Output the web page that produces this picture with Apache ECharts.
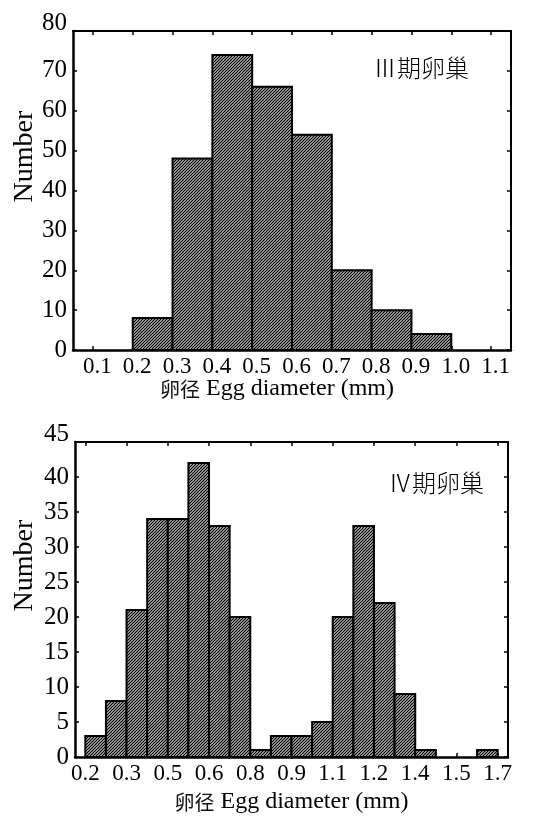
<!DOCTYPE html>
<html><head><meta charset="utf-8">
<script src="https://cdn.jsdelivr.net/npm/echarts@6/dist/echarts.min.js"></script>
<style>html,body{margin:0;padding:0;background:#fff}#c{width:550px;height:816px}</style>
</head><body><div id="c"></div>
<script>
// ---------- data ----------
const topBinEdges = [0.2, 0.3, 0.4, 0.5, 0.6, 0.7, 0.8, 0.9, 1.0];
const topCounts = [8, 48, 74, 66, 54, 20, 10, 4];
const topTickValues = [0.1, 0.2, 0.3, 0.4, 0.5, 0.6, 0.7, 0.8, 0.9, 1.0, 1.1];
const topTickLabels = ['0.1', '0.2', '0.3', '0.4', '0.5', '0.6', '0.7', '0.8', '0.9', '1.0', '1.1'];
const topTitle = 'Ⅲ期卵巢';

const botBinEdges = [0.2, 0.275, 0.35, 0.425, 0.5, 0.575, 0.65, 0.725, 0.8, 0.875, 0.95,
  1.025, 1.1, 1.175, 1.25, 1.325, 1.4, 1.475, 1.55, 1.625, 1.7];
const botCounts = [3, 8, 21, 34, 34, 42, 33, 20, 1, 3, 3, 5, 20, 33, 22, 9, 1, 0, 0, 1];
const botTickValues = [0.2, 0.35, 0.5, 0.65, 0.8, 0.95, 1.1, 1.25, 1.4, 1.55, 1.7];
const botTickLabels = ['0.2', '0.3', '0.5', '0.6', '0.8', '0.9', '1.1', '1.2', '1.4', '1.5', '1.7'];
const botTitle = 'Ⅳ期卵巢';

const xNameCn = '卵径';
const xNameEn = 'Egg diameter (mm)';
const yName = 'Number';

// ---------- hatch pattern ----------
function hatch() {
  const s = 3;
  const cv = document.createElement('canvas');
  cv.width = s; cv.height = s;
  const g = cv.getContext('2d');
  g.fillStyle = '#fff'; g.fillRect(0, 0, s, s);
  g.strokeStyle = '#000'; g.lineWidth = 1.3;
  g.beginPath();
  g.moveTo(-1, s + 1); g.lineTo(s + 1, -1);
  g.moveTo(-1, 1); g.lineTo(1, -1);
  g.moveTo(s - 1, s + 1); g.lineTo(s + 1, s - 1);
  g.stroke();
  return { image: cv, repeat: 'repeat' };
}
const pattern = hatch();

function rows(edges, counts) {
  return counts.map((c, i) => [edges[i], edges[i + 1], c]);
}
function lookup(vals, labs) {
  return v => {
    let bi = 0, bd = Infinity;
    vals.forEach((t, i) => { const d = Math.abs(t - v); if (d < bd) { bd = d; bi = i; } });
    return labs[bi];
  };
}

const serif = "'Liberation Serif','Times New Roman',serif";
const black = '#000';

function xAxes(gi, min, max, ticks, labs, namePad, labPad, gap) {
  return [{
    type: 'value', gridIndex: gi, min: min, max: max, position: 'bottom',
    axisLine: { show: true, onZero: false, lineStyle: { color: black, width: 2.5 } },
    axisTick: { show: true, inside: true, length: 4, customValues: ticks, lineStyle: { color: black, width: 1.5 } },
    axisLabel: { show: true, customValues: ticks, formatter: lookup(ticks, labs), color: black,
      fontFamily: serif, fontSize: 23, margin: 5, padding: labPad },
    splitLine: { show: false },
    name: '{c|' + xNameCn + '} {e|' + xNameEn + '}', nameLocation: 'middle', nameGap: gap,
    nameMoveOverlap: false,
    nameTextStyle: { color: black, fontFamily: serif, fontSize: 24, padding: namePad,
      rich: {
        c: { fontFamily: "'Noto Sans CJK SC'", fontSize: 20, color: '#111' },
        e: { fontFamily: serif, fontSize: 24, color: black }
      } }
  }, {
    type: 'value', gridIndex: gi, min: min, max: max, position: 'top',
    axisLine: { show: true, onZero: false, lineStyle: { color: black, width: 2 } },
    axisTick: { show: true, inside: true, length: 4, customValues: ticks, lineStyle: { color: black, width: 1.5 } },
    axisLabel: { show: false }, splitLine: { show: false }
  }];
}
function yAxes(gi, max, interval, gap) {
  return [{
    type: 'value', gridIndex: gi, min: 0, max: max, interval: interval, position: 'left',
    axisLine: { show: true, onZero: false, lineStyle: { color: black, width: 2.5 } },
    axisTick: { show: true, inside: true, length: 4, lineStyle: { color: black, width: 1.5 } },
    axisLabel: { color: black, fontFamily: serif, fontSize: 25, margin: 6,
      formatter: v => v === max ? '{t|' + v + '}' : String(v),
      rich: { t: { fontFamily: serif, fontSize: 25, color: black, padding: [0, 0, 16, 0] } } },
    splitLine: { show: false },
    name: yName, nameLocation: 'middle', nameGap: gap, nameRotate: 90, nameMoveOverlap: false,
    nameTextStyle: { color: black, fontFamily: serif, fontSize: 28, padding: [0, 0, 0, 68] }
  }, {
    type: 'value', gridIndex: gi, min: 0, max: max, interval: interval, position: 'right',
    axisLine: { show: true, onZero: false, lineStyle: { color: black, width: 2 } },
    axisTick: { show: true, inside: true, length: 4, lineStyle: { color: black, width: 1.5 } },
    axisLabel: { show: false }, splitLine: { show: false }
  }];
}

function renderBar(params, api) {
  const x0 = api.value(0), x1 = api.value(1), y = api.value(2);
  if (!y) return null;
  const p0 = api.coord([x0, 0]);
  const p1 = api.coord([x1, y]);
  return {
    type: 'rect',
    shape: { x: p0[0], y: p1[1], width: p1[0] - p0[0], height: p0[1] - p1[1] },
    style: { fill: pattern, stroke: black, lineWidth: 2 }
  };
}

const chart = echarts.init(document.getElementById('c'), null, { renderer: 'canvas' });
chart.setOption({
  backgroundColor: '#fff',
  animation: false,
  grid: [
    { left: 73, right: 39, top: 31, height: 319, containLabel: false, outerBoundsMode: 'none' },
    { left: 75, right: 42, top: 442, height: 315, containLabel: false, outerBoundsMode: 'none' }
  ],
  xAxis: [].concat(
    xAxes(0, 0.05, 1.15, topTickValues, topTickLabels, [0, 30, 0, 0], [0, 0, 0, 9], 27),
    xAxes(1, 0.1625, 1.7375, botTickValues, botTickLabels, [0, 0, 0, 0], [0, 0, 0, 0], 33)
  ),
  yAxis: [].concat(yAxes(0, 80, 10, 34), yAxes(1, 45, 5, 36)),
  graphic: [
    { type: 'text', left: 373, top: 56, style: { text: topTitle, fill: black, font: "300 24px 'Noto Sans CJK SC'" } },
    { type: 'text', left: 388, top: 471, style: { text: botTitle, fill: black, font: "300 24px 'Noto Sans CJK SC'" } }
  ],
  series: [
    { type: 'custom', xAxisIndex: 0, yAxisIndex: 0, renderItem: renderBar,
      encode: { x: [0, 1], y: 2 }, data: rows(topBinEdges, topCounts) },
    { type: 'custom', xAxisIndex: 2, yAxisIndex: 2, renderItem: renderBar,
      encode: { x: [0, 1], y: 2 }, data: rows(botBinEdges, botCounts) }
  ]
});
</script></body></html>
